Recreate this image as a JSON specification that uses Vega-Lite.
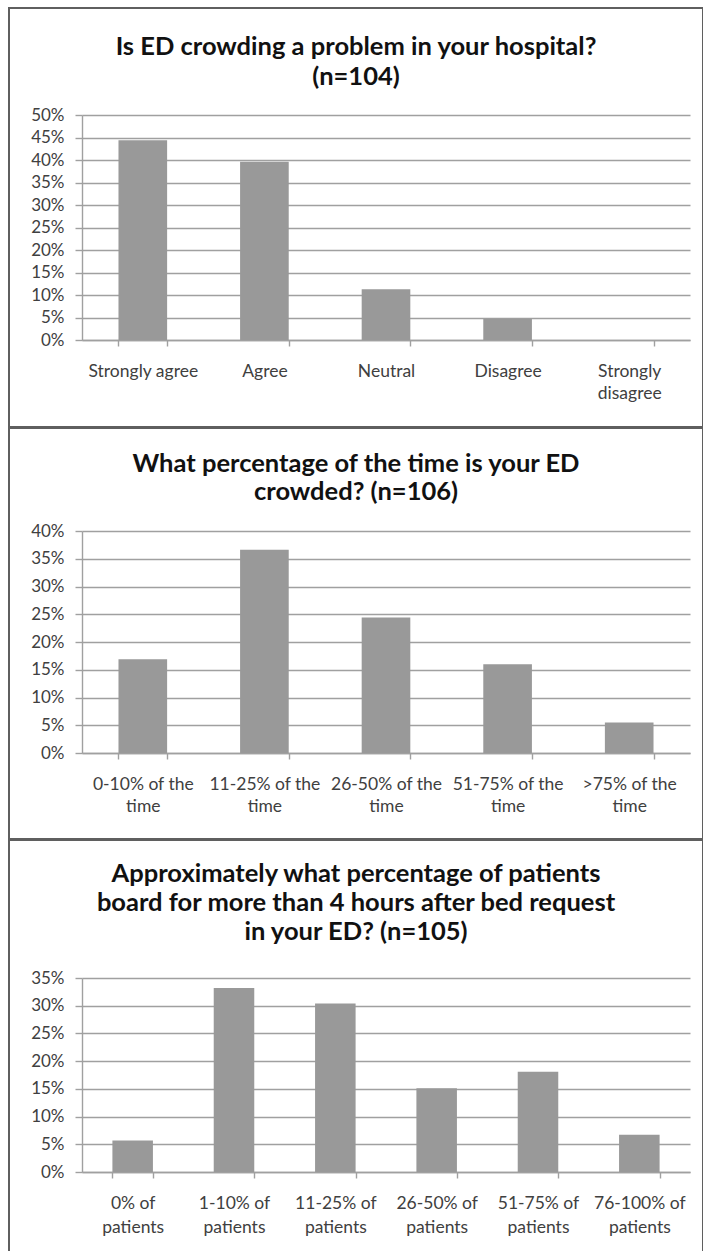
{
  "$schema": "https://vega.github.io/schema/vega-lite/v6.json",
  "padding": {"top": 7, "left": 8, "right": 0, "bottom": 0},
  "spacing": -2,
  "background": "white",
  "config": {
    "font": "Lato",
    "view": {"stroke": "#5f5f5f", "strokeWidth": 2},
    "bar": {"color": "#999999"},
    "axis": {
      "labelFont": "Lato",
      "labelFontSize": 17,
      "labelColor": "#404040",
      "domainColor": "#a0a0a0",
      "tickColor": "#a0a0a0",
      "gridColor": "#a0a0a0",
      "gridWidth": 1.4,
      "domainWidth": 1.4,
      "tickWidth": 1.4,
      "title": null
    },
    "axisX": {"labelFontSize": 17.5},
    "title": {
      "font": "Lato",
      "fontSize": 25.5,
      "fontWeight": "bold",
      "color": "#111111",
      "frame": "group",
      "anchor": "middle",
      "baseline": "top",
      "lineHeight": 29
    }
  },
  "vconcat": [
    {
      "width": 694,
      "height": 419,
      "title": {"text": ["Is ED crowding a problem in your hospital?", "(n=104)"], "offset": -82, "lineHeight": 30},
      "data": {"values": [
        {"response": "Strongly agree", "share": 0.444},
        {"response": "Agree", "share": 0.396},
        {"response": "Neutral", "share": 0.113},
        {"response": "Disagree", "share": 0.047},
        {"response": "Strongly disagree", "share": 0}
      ]},
      "mark": {"type": "bar"},
      "encoding": {
        "x": {
          "field": "response", "type": "nominal", "sort": null,
          "scale": {"range": [73, 681], "paddingInner": 0.6, "paddingOuter": 0.3},
          "axis": {"orient": "bottom", "offset": -87, "labelAngle": 0, "tickBand": "extent", "tickSize": 6, "labelPadding": 16, "labelLineHeight": 22, "labelOverlap": false, "grid": false,
            "labelExpr": "datum.label == 'Strongly disagree' ? ['Strongly', 'disagree'] : datum.label"}
        },
        "y": {
          "field": "share", "type": "quantitative",
          "scale": {"domain": [0, 0.5], "range": [332, 107], "nice": false},
          "axis": {"offset": -73, "format": ".0%", "values": [0, 0.05, 0.1, 0.15, 0.2, 0.25, 0.3, 0.35, 0.4, 0.45, 0.5], "tickSize": 7, "labelPadding": 11, "grid": true}
        }
      }
    },
    {
      "width": 694,
      "height": 411,
      "title": {"text": ["What percentage of the time is your ED", "crowded? (n=106)"], "offset": -77.5, "lineHeight": 28},
      "data": {"values": [
        {"response": "0-10% of the time", "share": 0.169},
        {"response": "11-25% of the time", "share": 0.366},
        {"response": "26-50% of the time", "share": 0.244},
        {"response": "51-75% of the time", "share": 0.16},
        {"response": ">75% of the time", "share": 0.055}
      ]},
      "mark": {"type": "bar"},
      "encoding": {
        "x": {
          "field": "response", "type": "nominal", "sort": null,
          "scale": {"range": [73, 681], "paddingInner": 0.6, "paddingOuter": 0.3},
          "axis": {"orient": "bottom", "offset": -86, "labelAngle": 0, "tickBand": "extent", "tickSize": 6, "labelPadding": 16, "labelLineHeight": 22, "labelOverlap": false, "grid": false,
            "labelExpr": "datum.label ? [replace(datum.label, ' time', ''), 'time'] : ''"}
        },
        "y": {
          "field": "share", "type": "quantitative",
          "scale": {"domain": [0, 0.4], "range": [325, 103], "nice": false},
          "axis": {"offset": -73, "format": ".0%", "values": [0, 0.05, 0.1, 0.15, 0.2, 0.25, 0.3, 0.35, 0.4], "tickSize": 7, "labelPadding": 11, "grid": true}
        }
      }
    },
    {
      "width": 694,
      "height": 413,
      "title": {"text": ["Approximately what percentage of patients", "board for more than 4 hours after bed request", "in your ED? (n=105)"], "offset": -105.5, "lineHeight": 29},
      "data": {"values": [
        {"response": "0% of patients", "share": 0.057},
        {"response": "1-10% of patients", "share": 0.332},
        {"response": "11-25% of patients", "share": 0.304},
        {"response": "26-50% of patients", "share": 0.151},
        {"response": "51-75% of patients", "share": 0.181},
        {"response": "76-100% of patients", "share": 0.067}
      ]},
      "mark": {"type": "bar"},
      "encoding": {
        "x": {
          "field": "response", "type": "nominal", "sort": null,
          "scale": {"range": [73, 681], "paddingInner": 0.6, "paddingOuter": 0.3},
          "axis": {"orient": "bottom", "offset": -81, "labelAngle": 0, "tickBand": "extent", "tickSize": 6, "labelPadding": 16, "labelLineHeight": 24, "labelOverlap": false, "grid": false,
            "labelExpr": "datum.label ? [replace(datum.label, ' patients', ''), 'patients'] : ''"}
        },
        "y": {
          "field": "share", "type": "quantitative",
          "scale": {"domain": [0, 0.35], "range": [332, 138], "nice": false},
          "axis": {"offset": -73, "format": ".0%", "values": [0, 0.05, 0.1, 0.15, 0.2, 0.25, 0.3, 0.35], "tickSize": 7, "labelPadding": 11, "grid": true}
        }
      }
    }
  ]
}
